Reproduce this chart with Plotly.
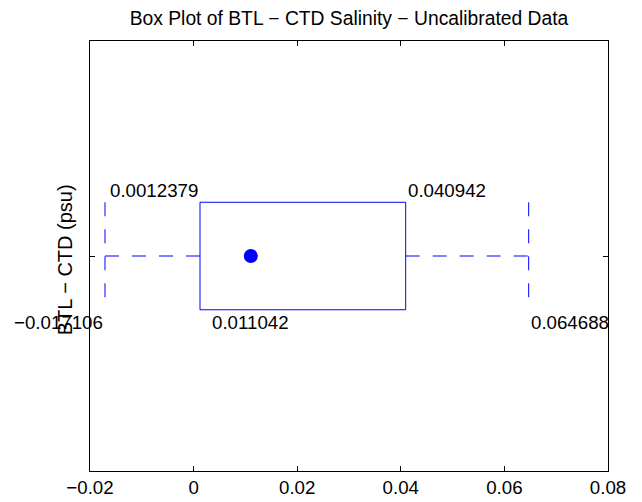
import plotly.graph_objects as go

# Box plot statistics (psu)
whisker_low = -0.017106
q1 = 0.0012379
median = 0.011042
q3 = 0.040942
whisker_high = 0.064688

x_ticks = [-0.02, 0, 0.02, 0.04, 0.06, 0.08]
x_ticklabels = ["\u22120.02", "0", "0.02", "0.04", "0.06", "0.08"]

title_text = "Box Plot of BTL \u2212 CTD Salinity \u2212 Uncalibrated Data"
ylabel_text = "BTL \u2212 CTD (psu)"

def fmt(v):
    s = f"{v:.8g}"
    return s.replace("-", "\u2212")

yc, half = 1.0, 0.25
blue = "#0000ff"
FONT = "Liberation Sans, Arial, Helvetica, sans-serif"
FS = 18.7
FS_T = 19.3
FS_Y = 20

fig = go.Figure()
# Box
fig.add_trace(go.Scatter(
    x=[q1, q3, q3, q1, q1],
    y=[yc - half, yc - half, yc + half, yc + half, yc - half],
    mode="lines", line=dict(color=blue, width=1), hoverinfo="skip"))
# Whiskers horizontal
fig.add_trace(go.Scatter(x=[whisker_low, q1], y=[yc, yc], mode="lines",
                         line=dict(color=blue, width=1, dash="14px,13px"), hoverinfo="skip"))
fig.add_trace(go.Scatter(x=[q3, whisker_high], y=[yc, yc], mode="lines",
                         line=dict(color=blue, width=1, dash="14px,13px"), hoverinfo="skip"))
# Whisker ends
for w in (whisker_low, whisker_high):
    fig.add_trace(go.Scatter(x=[w, w], y=[yc + half, yc - half], mode="lines",
                             line=dict(color=blue, width=1, dash="14px,13px"), hoverinfo="skip"))
# Median dot
fig.add_trace(go.Scatter(x=[median], y=[yc], mode="markers",
                         marker=dict(color=blue, size=14), hoverinfo="skip"))

ann = []
def add(x, y, text, xa, ya, ys=0):
    ann.append(dict(x=x, y=y, xref="x", yref="y", text=text, showarrow=False,
                    xanchor=xa, yanchor=ya, yshift=ys,
                    font=dict(family=FONT, size=FS, color="black")))
add(q1, yc + half, fmt(q1), "right", "bottom", -1)
add(q3, yc + half, fmt(q3), "left", "bottom", -1)
add(whisker_low, yc - half, fmt(whisker_low), "right", "top", 0)
add(median, yc - half, fmt(median), "center", "top", 0)
add(whisker_high, yc - half, fmt(whisker_high), "left", "top", 0)
ann.append(dict(x=-25 / 518, y=0.49, xref="paper", yref="paper", text=ylabel_text,
                textangle=-90, showarrow=False, xanchor="center", yanchor="middle",
                font=dict(family=FONT, size=FS_Y, color="black")))

fig.update_layout(
    width=642, height=502,
    margin=dict(l=90, r=34, t=41, b=31),
    paper_bgcolor="white", plot_bgcolor="white",
    showlegend=False,
    font=dict(family=FONT, size=FS, color="black"),
    title=dict(text=title_text, x=0.5, xref="paper", y=1 - 18 / 502, yref="container",
               xanchor="center", yanchor="middle",
               font=dict(family=FONT, size=FS_T, color="black")),
    annotations=ann,
    xaxis=dict(range=[-0.02, 0.08], tickvals=x_ticks, ticktext=x_ticklabels,
               ticks="inside", ticklen=5, tickcolor="black", showgrid=False,
               zeroline=False, showline=True, linecolor="black", linewidth=1,
               mirror="ticks", automargin=False,
               tickfont=dict(family=FONT, size=FS, color="black")),
    yaxis=dict(range=[0, 2], tickvals=[1], ticktext=[""], automargin=False,
               ticks="inside", ticklen=5, tickcolor="black", showgrid=False,
               zeroline=False, showline=True, linecolor="black", linewidth=1,
               mirror="ticks"),
)

fig.write_html("out.html", config={"displayModeBar": False},
               post_script="document.body.style.margin='0';document.body.style.overflow='hidden';")
